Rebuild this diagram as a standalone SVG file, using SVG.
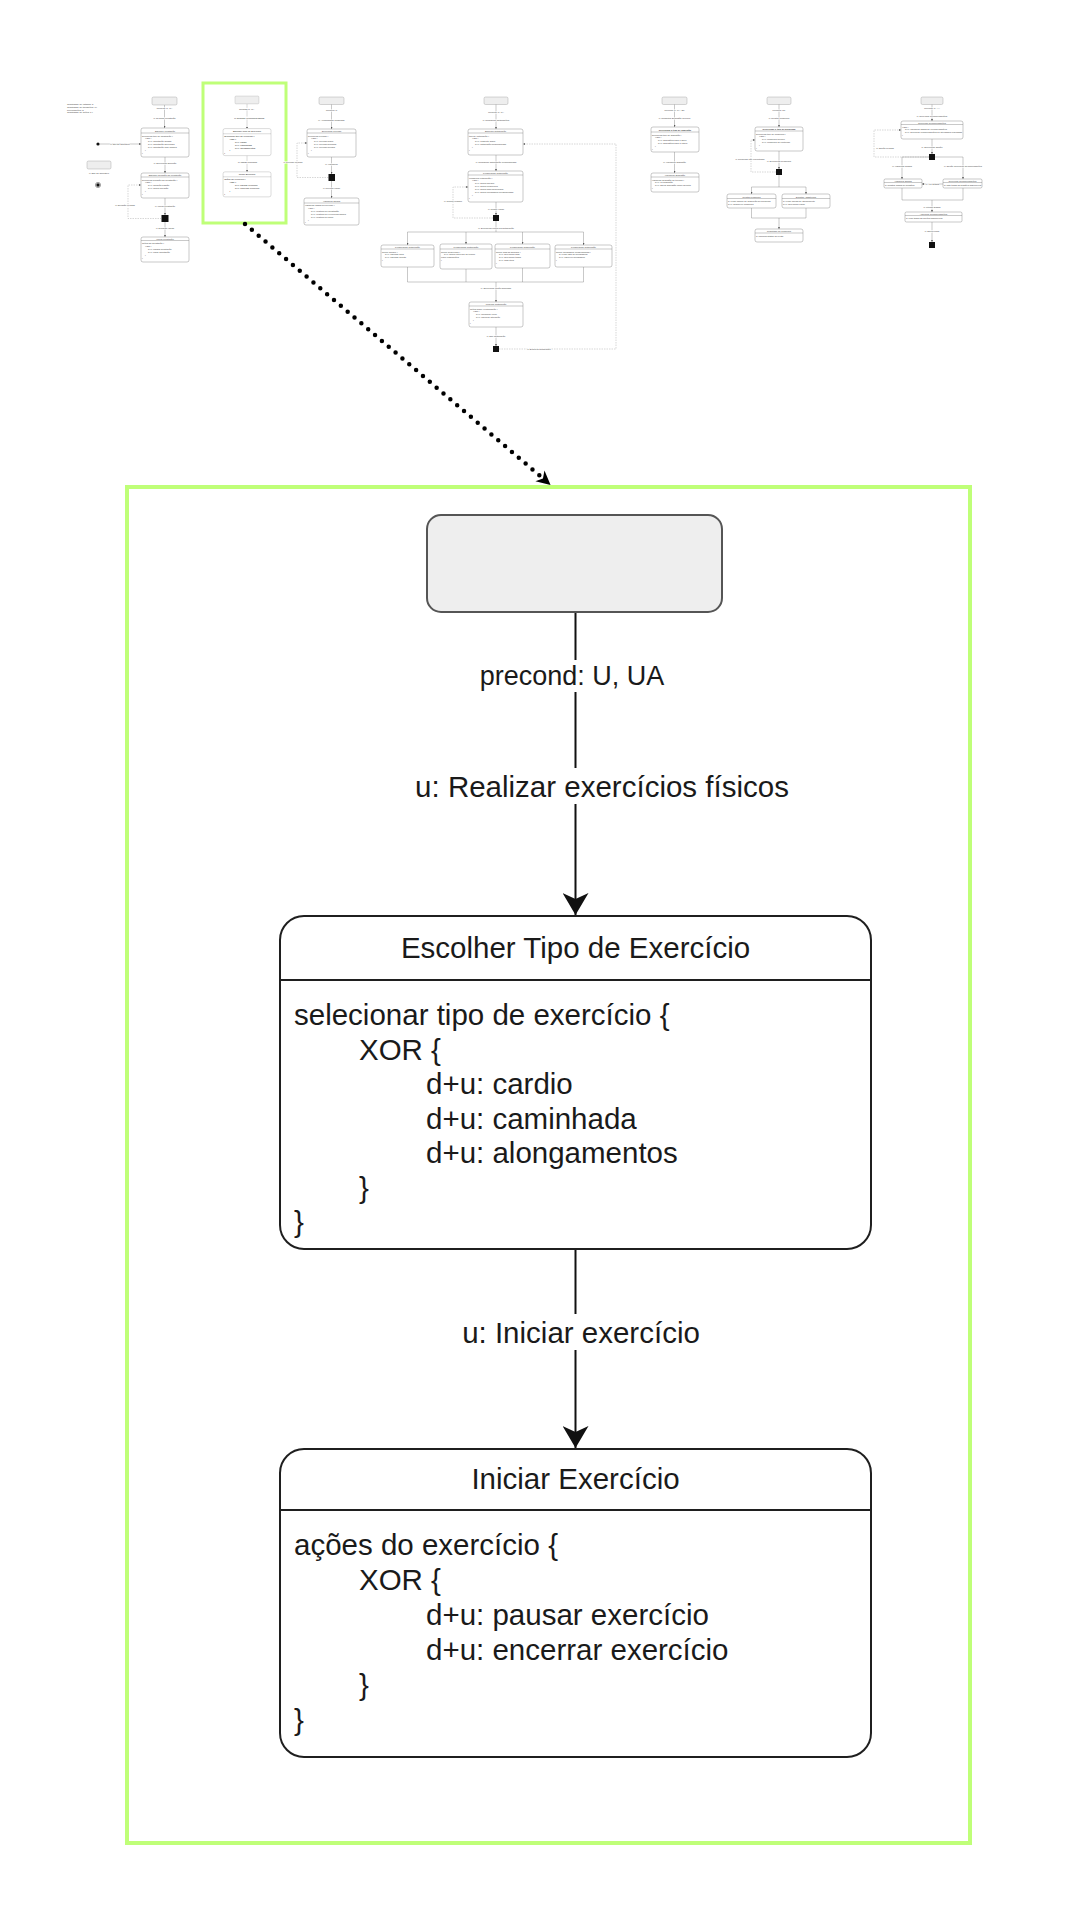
<svg xmlns="http://www.w3.org/2000/svg" xmlns:xlink="http://www.w3.org/1999/xlink" width="1080" height="1920" viewBox="0 0 1080 1920">
<style>
.t{font-family:"Liberation Sans",Arial,"Noto Sans",sans-serif;fill:#1a1a1a}
.lbl{font-size:29.5px;text-anchor:middle}
.pre{font-size:27px;text-anchor:middle}
.ttl{font-size:29.5px;text-anchor:middle}
.body{font-size:29.5px}
.start{fill:#eeeeee;stroke:#555555;stroke-width:2}
.node{fill:#ffffff;stroke:#1f1f1f;stroke-width:2}
.div{stroke:#1f1f1f;stroke-width:2}
.edge{stroke:#111111;stroke-width:2;fill:none}
.bg{fill:#ffffff}
.frame{fill:none;stroke:#bfff78;stroke-width:4}
.mt{font-family:"Liberation Sans",Arial,sans-serif;font-size:2.3px;fill:#444444}
.mtc{text-anchor:middle}
.mtb{font-weight:bold}
.mlab{font-family:"Liberation Sans",Arial,sans-serif;font-size:2.3px;fill:#444444;text-anchor:middle;paint-order:stroke;stroke:#ffffff;stroke-width:1}
.ms{fill:#eeeeee;stroke:#999999;stroke-width:0.4}
.mb{fill:#ffffff;stroke:#777777;stroke-width:0.4}
.ml{stroke:#777777;stroke-width:0.4;fill:none}
.mld{stroke:#999999;stroke-width:0.4;fill:none;stroke-dasharray:1.5 1}
.msq{fill:#111111}
</style>
<defs>
<marker id="arrow" viewBox="0 0 22 26" refX="22" refY="13" markerWidth="22" markerHeight="26" orient="auto" markerUnits="userSpaceOnUse">
<path d="M0,0 L22,13 L0,26 L6,13 Z" fill="#111111"/>
</marker>
<marker id="ma" viewBox="0 0 4 4" refX="4" refY="2" markerWidth="2" markerHeight="2" orient="auto" markerUnits="userSpaceOnUse">
<path d="M0,0 L4,2 L0,4 Z" fill="#555555"/>
</marker>
<marker id="dotarrow" viewBox="0 0 20 20" refX="10" refY="10" markerWidth="20" markerHeight="20" orient="auto" markerUnits="userSpaceOnUse">
<path d="M2,3 L16,10 L2,17 L6,10 Z" fill="#000000"/>
</marker>
</defs>
<rect width="1080" height="1920" fill="#ffffff"/>

<!-- ===== Main (zoomed) diagram ===== -->
<g id="main">
 <g id="connectors">
  <line class="edge" x1="575.5" y1="612" x2="575.5" y2="915" marker-end="url(#arrow)"/>
  <rect class="bg" x="474" y="660" width="196" height="32"/>
  <text class="t pre" x="572" y="685">precond: U, UA</text>
  <rect class="bg" x="410" y="768" width="385" height="36"/>
  <text class="t lbl" x="602" y="796.5">u: Realizar exercícios físicos</text>
  <line class="edge" x1="575.5" y1="1249" x2="575.5" y2="1448" marker-end="url(#arrow)"/>
  <rect class="bg" x="457" y="1314" width="247" height="36"/>
  <text class="t lbl" x="581" y="1342.5">u: Iniciar exercício</text>
 </g>
 <g id="node-start">
  <rect class="start" x="427" y="515" width="295" height="97" rx="14"/>
 </g>
 <g id="node-escolher">
  <rect class="node" x="280" y="916" width="591" height="333" rx="24"/>
  <line class="div" x1="280" y1="980" x2="871" y2="980"/>
  <text class="t ttl" x="575.5" y="957.5">Escolher Tipo de Exercício</text>
  <text class="t body" x="294" y="1025">selecionar tipo de exercício {</text>
  <text class="t body" x="359" y="1059.5">XOR {</text>
  <text class="t body" x="426" y="1094">d+u: cardio</text>
  <text class="t body" x="426" y="1128.5">d+u: caminhada</text>
  <text class="t body" x="426" y="1163">d+u: alongamentos</text>
  <text class="t body" x="359" y="1197.5">}</text>
  <text class="t body" x="294" y="1232">}</text>
 </g>
 <g id="node-iniciar">
  <rect class="node" x="280" y="1449" width="591" height="308" rx="24"/>
  <line class="div" x1="280" y1="1510" x2="871" y2="1510"/>
  <text class="t ttl" x="575.5" y="1488.5">Iniciar Exercício</text>
  <text class="t body" x="294" y="1555">ações do exercício {</text>
  <text class="t body" x="359" y="1590">XOR {</text>
  <text class="t body" x="426" y="1625">d+u: pausar exercício</text>
  <text class="t body" x="426" y="1660">d+u: encerrar exercício</text>
  <text class="t body" x="359" y="1695">}</text>
  <text class="t body" x="294" y="1730">}</text>
 </g>
</g>
<rect id="zoom-frame" class="frame" x="127" y="487" width="843" height="1356"/>

<!-- ===== Overview thumbnails ===== -->
<g id="mini1">
 <text class="mt" x="67" y="105">Quantidade de estados: 8</text>
 <text class="mt" x="67" y="107.8">Quantidade de transições: 14</text>
 <text class="mt" x="67" y="110.6">Precondições: 3</text>
 <text class="mt" x="67" y="113.4">Quantidade de ações: 14</text>
 <rect class="ms" x="152" y="97" width="25" height="8" rx="1.5"/>
 <line class="ml" x1="164.5" y1="105" x2="164.5" y2="128" marker-end="url(#ma)"/>
 <text class="mlab" x="164.5" y="109">precond: U, UA</text>
 <text class="mlab" x="164.5" y="119">u: Realizar meditação</text>
 <rect class="mb" x="141" y="128" width="48" height="29" rx="2"/>
 <line class="ml" x1="141" y1="133" x2="189" y2="133"/>
 <text class="mt mtc" x="165" y="131.8">Escolher Meditação</text>
 <text class="mt" x="142" y="136.5">selecionar tipo de meditação {</text>
 <text class="mt" x="145" y="139.4">XOR {</text>
 <text class="mt" x="148" y="142.3">d+u: meditação guiada</text>
 <text class="mt" x="148" y="145.2">d+u: meditação silenciosa</text>
 <text class="mt" x="148" y="148.1">d+u: meditação com música</text>
 <text class="mt" x="145" y="151">}</text>
 <text class="mt" x="142" y="153.9">}</text>
 <circle cx="98" cy="144" r="1.6" fill="#111"/>
 <line class="ml" x1="99.6" y1="144" x2="141" y2="144" marker-end="url(#ma)"/>
 <text class="mlab" x="120" y="144.8">u: sair do aplicativo</text>
 <rect class="ms" x="87" y="161" width="24" height="8" rx="1.5"/>
 <text class="mlab" x="99" y="174">u: Sair do aplicativo</text>
 <circle cx="98" cy="185" r="2.6" fill="none" stroke="#111" stroke-width="0.4"/>
 <circle cx="98" cy="185" r="1.7" fill="#111"/>
 <line class="ml" x1="165" y1="157" x2="165" y2="173" marker-end="url(#ma)"/>
 <text class="mlab" x="165" y="164">u: Selecionar Duração</text>
 <rect class="mb" x="141" y="173" width="48" height="25" rx="2"/>
 <line class="ml" x1="141" y1="177" x2="189" y2="177"/>
 <text class="mt mtc" x="165" y="176.2">Escolher Duração da Meditação</text>
 <text class="mt" x="142" y="180.5">selecionar duração da meditação {</text>
 <text class="mt" x="145" y="183.4">XOR {</text>
 <text class="mt" x="148" y="186.3">d+u: duração padrão</text>
 <text class="mt" x="148" y="189.2">d+u: definir duração</text>
 <text class="mt" x="145" y="192.1">}</text>
 <text class="mt" x="142" y="195">}</text>
 <line class="ml" x1="165" y1="198" x2="165" y2="215" marker-end="url(#ma)"/>
 <text class="mlab" x="165" y="207">u: Iniciar Meditação</text>
 <rect class="msq" x="161.5" y="215" width="7" height="7"/>
 <path class="mld" d="M161.5,218.5 H128 V185 H141" marker-end="url(#ma)"/>
 <text class="mlab" x="125" y="205.5">u: Duração inválida</text>
 <line class="ml" x1="165" y1="222" x2="165" y2="237" marker-end="url(#ma)"/>
 <text class="mlab" x="165" y="229">u: Duração válida</text>
 <rect class="mb" x="141" y="237" width="48" height="25" rx="2"/>
 <line class="ml" x1="141" y1="240.5" x2="189" y2="240.5"/>
 <text class="mt mtc" x="165" y="239.8">Iniciar Meditação</text>
 <text class="mt" x="142" y="244">ações da meditação {</text>
 <text class="mt" x="145" y="246.9">XOR {</text>
 <text class="mt" x="148" y="249.8">d+u: pausar meditação</text>
 <text class="mt" x="148" y="252.7">d+u: parar meditação</text>
 <text class="mt" x="145" y="255.6">}</text>
 <text class="mt" x="142" y="258.5">}</text>
</g>

<g id="mini2">
 <use xlink:href="#main" href="#main" transform="translate(200.3,54.2) scale(0.0812)"/>
</g>
<rect id="mini2-frame" x="203" y="83" width="83" height="140" fill="none" stroke="#bfff78" stroke-width="3"/>

<g id="mini3">
 <rect class="ms" x="319" y="97" width="25" height="7.5" rx="1.5"/>
 <line class="ml" x1="331.5" y1="104.5" x2="331.5" y2="129" marker-end="url(#ma)"/>
 <text class="mlab" x="331.5" y="111">precond: U</text>
 <text class="mlab" x="331.5" y="121">u: Acompanhar progresso</text>
 <rect class="mb" x="307" y="129" width="49" height="28" rx="2"/>
 <line class="ml" x1="307" y1="133" x2="356" y2="133"/>
 <text class="mt mtc" x="331.5" y="132.2">Selecionar Período</text>
 <text class="mt" x="308" y="136.5">selecionar período {</text>
 <text class="mt" x="311" y="139.4">XOR {</text>
 <text class="mt" x="314" y="142.3">d+u: período diário</text>
 <text class="mt" x="314" y="145.2">d+u: período semanal</text>
 <text class="mt" x="314" y="148.1">d+u: período mensal</text>
 <text class="mt" x="311" y="151">}</text>
 <text class="mt" x="308" y="153.9">}</text>
 <path class="mld" d="M328.5,177.5 H297 V143 H307" marker-end="url(#ma)"/>
 <text class="mlab" x="293" y="162.5">u: Período inválido</text>
 <line class="ml" x1="331.5" y1="157" x2="331.5" y2="174" marker-end="url(#ma)"/>
 <text class="mlab" x="331.5" y="164.5">u: Visualizar</text>
 <rect class="msq" x="328.5" y="174" width="6.5" height="7"/>
 <line class="ml" x1="331.5" y1="181" x2="331.5" y2="198" marker-end="url(#ma)"/>
 <text class="mlab" x="331.5" y="188.5">u: Período válido</text>
 <rect class="mb" x="304" y="198" width="55" height="27" rx="2"/>
 <line class="ml" x1="304" y1="203" x2="359" y2="203"/>
 <text class="mt mtc" x="331.5" y="201.5">Visualizar Dados</text>
 <text class="mt" x="305" y="206">visualizar dados do período {</text>
 <text class="mt" x="308" y="208.9">XOR {</text>
 <text class="mt" x="311" y="211.8">d+u: relatório de meditação</text>
 <text class="mt" x="311" y="214.7">d+u: relatório de exercícios físicos</text>
 <text class="mt" x="311" y="217.6">d+u: relatório de sono</text>
 <text class="mt" x="308" y="220.5">}</text>
 <text class="mt" x="305" y="223.4">}</text>
</g>

<g id="mini4">
 <rect class="ms" x="484" y="97" width="24" height="7.5" rx="1.5"/>
 <line class="ml" x1="496" y1="104.5" x2="496" y2="129" marker-end="url(#ma)"/>
 <text class="mlab" x="496" y="112.5">precond: U, UA</text>
 <text class="mlab" x="496" y="121">u: Configurar Notificações</text>
 <rect class="mb" x="468" y="129" width="55" height="26" rx="2"/>
 <line class="ml" x1="468" y1="133" x2="523" y2="133"/>
 <text class="mt mtc" x="495.5" y="132.2">Escolher Notificação</text>
 <text class="mt" x="469" y="136.5">tipo de notificação {</text>
 <text class="mt" x="472" y="139.4">XOR {</text>
 <text class="mt" x="475" y="142.3">d+u: lembrete diário</text>
 <text class="mt" x="475" y="145.2">d+u: notificação personalizada</text>
 <text class="mt" x="472" y="148.1">}</text>
 <text class="mt" x="469" y="151">}</text>
 <line class="ml" x1="496" y1="155" x2="496" y2="171" marker-end="url(#ma)"/>
 <text class="mlab" x="496" y="163">u: Configurar Notificação Personalizada</text>
 <rect class="mb" x="468" y="171" width="55" height="31" rx="2"/>
 <line class="ml" x1="468" y1="175" x2="523" y2="175"/>
 <text class="mt mtc" x="495.5" y="174.2">Personalizar Notificação</text>
 <text class="mt" x="469" y="178.5">configurar notificação {</text>
 <text class="mt" x="472" y="181.4">XOR {</text>
 <text class="mt" x="475" y="184.3">d+u: definir horário</text>
 <text class="mt" x="475" y="187.2">d+u: definir frequência</text>
 <text class="mt" x="475" y="190.1">d+u: definir dias da semana</text>
 <text class="mt" x="475" y="193">d+u: definir mensagem personalizada</text>
 <text class="mt" x="472" y="195.9">}</text>
 <text class="mt" x="469" y="198.8">}</text>
 <path class="mld" d="M493,218 H453 V187 H468" marker-end="url(#ma)"/>
 <text class="mlab" x="453" y="201.5">u: Tempo inválido</text>
 <line class="ml" x1="496" y1="202" x2="496" y2="215" marker-end="url(#ma)"/>
 <text class="mlab" x="496" y="209.5">u: Tempo válido</text>
 <rect class="msq" x="493" y="215" width="6" height="6"/>
 <line class="ml" x1="496" y1="221" x2="496" y2="232"/>
 <text class="mlab" x="496" y="228.5">u: Selecionar ações da Notificação</text>
 <path class="ml" d="M407.5,232 H583.5"/>
 <line class="ml" x1="407.5" y1="232" x2="407.5" y2="245" marker-end="url(#ma)"/>
 <line class="ml" x1="466" y1="232" x2="466" y2="244" marker-end="url(#ma)"/>
 <line class="ml" x1="522.5" y1="232" x2="522.5" y2="244" marker-end="url(#ma)"/>
 <line class="ml" x1="583.5" y1="232" x2="583.5" y2="245" marker-end="url(#ma)"/>
 <rect class="mb" x="381" y="245" width="53" height="22" rx="2"/>
 <line class="ml" x1="381" y1="249" x2="434" y2="249"/>
 <text class="mt mtc" x="407.5" y="248.2">Personalizar Notificação</text>
 <text class="mt" x="382" y="252.5">definir horário {</text>
 <text class="mt" x="385" y="255.4">d+u: informar hora</text>
 <text class="mt" x="385" y="258.3">d+u: informar minuto</text>
 <text class="mt" x="382" y="261.2">}</text>
 <rect class="mb" x="440" y="244" width="52" height="25" rx="2"/>
 <line class="ml" x1="440" y1="249" x2="492" y2="249"/>
 <text class="mt mtc" x="466" y="248">Personalizar Notificação</text>
 <text class="mt" x="441" y="252.5">definir frequência {</text>
 <text class="mt" x="444" y="255.4">d+u: definir intervalo de tempo</text>
 <text class="mt" x="441" y="258.3">entre notificações</text>
 <text class="mt" x="441" y="261.2">}</text>
 <rect class="mb" x="495" y="244" width="55" height="24" rx="2"/>
 <line class="ml" x1="495" y1="249" x2="550" y2="249"/>
 <text class="mt mtc" x="522.5" y="248">Personalizar Notificação</text>
 <text class="mt" x="496" y="252.5">definir dias da semana {</text>
 <text class="mt" x="499" y="255.4">d+u: selecionar dias</text>
 <text class="mt" x="499" y="258.3">d+u: selecionar todos</text>
 <text class="mt" x="499" y="261.2">d+u: dias úteis</text>
 <text class="mt" x="496" y="264.1">}</text>
 <rect class="mb" x="555" y="245" width="57" height="22" rx="2"/>
 <line class="ml" x1="555" y1="249" x2="612" y2="249"/>
 <text class="mt mtc" x="583.5" y="248.2">Personalizar Notificação</text>
 <text class="mt" x="556" y="252.5">definir mensagem personalizada {</text>
 <text class="mt" x="559" y="255.4">d: exibir lista de mensagens</text>
 <text class="mt" x="559" y="258.3">d+u: escrever mensagem</text>
 <text class="mt" x="556" y="261.2">}</text>
 <line class="ml" x1="407.5" y1="267" x2="407.5" y2="282"/>
 <line class="ml" x1="466" y1="269" x2="466" y2="282"/>
 <line class="ml" x1="522.5" y1="268" x2="522.5" y2="282"/>
 <line class="ml" x1="583.5" y1="267" x2="583.5" y2="282"/>
 <path class="ml" d="M407.5,282 H583.5"/>
 <line class="ml" x1="496" y1="282" x2="496" y2="302" marker-end="url(#ma)"/>
 <text class="mlab" x="496" y="289">u: Selecionar opção desejada</text>
 <rect class="mb" x="469" y="302" width="54" height="25" rx="2"/>
 <line class="ml" x1="469" y1="306" x2="523" y2="306"/>
 <text class="mt mtc" x="496" y="305.2">Finalizar Notificação</text>
 <text class="mt" x="470" y="309.5">ações sobre a notificação {</text>
 <text class="mt" x="473" y="312.4">XOR {</text>
 <text class="mt" x="476" y="315.3">d+u: confirmar envio</text>
 <text class="mt" x="476" y="318.2">d+u: cancelar alteração</text>
 <text class="mt" x="473" y="321.1">}</text>
 <text class="mt" x="470" y="324">}</text>
 <line class="ml" x1="496" y1="327" x2="496" y2="346" marker-end="url(#ma)"/>
 <text class="mlab" x="496" y="337">u: Sair Notificação</text>
 <rect class="msq" x="493" y="346" width="6" height="6"/>
 <path class="mld" d="M499,349 H616 V144 H523" marker-end="url(#ma)"/>
 <text class="mlab" x="539" y="350">u: Encerrar Notificação</text>
</g>

<g id="mini5">
 <rect class="ms" x="662" y="97" width="25" height="7.5" rx="1.5"/>
 <line class="ml" x1="674.5" y1="104.5" x2="674.5" y2="127" marker-end="url(#ma)"/>
 <text class="mlab" x="674.5" y="111">precond: U, UA, ST</text>
 <text class="mlab" x="674.5" y="119">u: Consultar Sugestão Técnica</text>
 <rect class="mb" x="651" y="127" width="48" height="25" rx="2"/>
 <line class="ml" x1="651" y1="132" x2="699" y2="132"/>
 <text class="mt mtc mtb" x="675" y="130.8">Selecionar o tipo de sugestão</text>
 <text class="mt" x="652" y="135.5">selecionar tipo de sugestão {</text>
 <text class="mt" x="655" y="138.4">XOR {</text>
 <text class="mt" x="658" y="141.3">d+u: sugestões para o sono</text>
 <text class="mt" x="658" y="144.2">d+u: sugestões para a rotina</text>
 <text class="mt" x="655" y="147.1">}</text>
 <text class="mt" x="652" y="150">}</text>
 <line class="ml" x1="674.5" y1="152" x2="674.5" y2="173" marker-end="url(#ma)"/>
 <text class="mlab" x="674.5" y="163">u: Visualizar sugestão</text>
 <rect class="mb" x="651" y="173" width="48" height="19" rx="2"/>
 <line class="ml" x1="651" y1="177" x2="699" y2="177"/>
 <text class="mt mtc" x="675" y="176.2">Visualizar Sugestão</text>
 <text class="mt" x="652" y="180.5">visualizar sugestão de técnica {</text>
 <text class="mt" x="655" y="183.4">d+u: ler sugestão</text>
 <text class="mt" x="655" y="186.3">d+u: salvar sugestão como favorita</text>
 <text class="mt" x="652" y="189.2">}</text>
</g>

<g id="mini6">
 <rect class="ms" x="767" y="97" width="24" height="7.5" rx="1.5"/>
 <line class="ml" x1="779" y1="104.5" x2="779" y2="127" marker-end="url(#ma)"/>
 <text class="mlab" x="779" y="111">precond: UP</text>
 <text class="mlab" x="779" y="119">u: Relatar Problema</text>
 <rect class="mb" x="755" y="127" width="48" height="24" rx="2"/>
 <line class="ml" x1="755" y1="131" x2="803" y2="131"/>
 <text class="mt mtc mtb" x="779" y="130.2">Selecionar o tipo de problema</text>
 <text class="mt" x="756" y="134.5">selecionar tipo de problema {</text>
 <text class="mt" x="759" y="137.4">XOR {</text>
 <text class="mt" x="762" y="140.3">d+u: problema técnico</text>
 <text class="mt" x="762" y="143.2">d+u: problema de conteúdo</text>
 <text class="mt" x="759" y="146.1">}</text>
 <text class="mt" x="756" y="149">}</text>
 <path class="mld" d="M776,172 H751 V140 H755" marker-end="url(#ma)"/>
 <text class="mlab" x="750" y="159.5">u: Problema não encontrado</text>
 <line class="ml" x1="779" y1="151" x2="779" y2="169" marker-end="url(#ma)"/>
 <text class="mlab" x="779" y="161.5">u: Selecionar Problema</text>
 <rect class="msq" x="776" y="169" width="6" height="6"/>
 <line class="ml" x1="779" y1="175" x2="779" y2="187"/>
 <path class="ml" d="M751.5,187 H806"/>
 <line class="ml" x1="751.5" y1="187" x2="751.5" y2="194" marker-end="url(#ma)"/>
 <line class="ml" x1="806" y1="187" x2="806" y2="194" marker-end="url(#ma)"/>
 <rect class="mb" x="727" y="194" width="49" height="14" rx="2"/>
 <line class="ml" x1="727" y1="198.5" x2="776" y2="198.5"/>
 <text class="mt mtc" x="751.5" y="197.5">Relatar Problema</text>
 <text class="mt" x="728" y="201.8">d: exibir campo de descrição do problema</text>
 <text class="mt" x="728" y="204.7">d+u: descrever problema</text>
 <rect class="mb" x="782" y="194" width="48" height="14" rx="2"/>
 <line class="ml" x1="782" y1="198.5" x2="830" y2="198.5"/>
 <text class="mt mtc" x="806" y="197.5">Solicitar Assistência</text>
 <text class="mt" x="783" y="201.8">d: exibir canais de atendimento</text>
 <text class="mt" x="783" y="204.7">d+u: selecionar canal</text>
 <line class="ml" x1="751.5" y1="208" x2="751.5" y2="218"/>
 <line class="ml" x1="806" y1="208" x2="806" y2="218"/>
 <path class="ml" d="M751.5,218 H806"/>
 <line class="ml" x1="779" y1="218" x2="779" y2="229" marker-end="url(#ma)"/>
 <rect class="mb" x="755" y="229" width="48" height="13" rx="2"/>
 <line class="ml" x1="755" y1="233" x2="803" y2="233"/>
 <text class="mt mtc" x="779" y="232.2">Resultado do Problema</text>
 <text class="mt" x="756" y="236.5">d: informar status do relato</text>
</g>

<g id="mini7">
 <rect class="ms" x="921" y="97" width="22" height="7.5" rx="1.5"/>
 <line class="ml" x1="932" y1="104.5" x2="932" y2="121" marker-end="url(#ma)"/>
 <text class="mlab" x="932" y="109">precond: U, AA</text>
 <text class="mlab" x="932" y="117">u: Gerenciar Recomendações</text>
 <rect class="mb" x="901" y="121" width="62" height="18" rx="2"/>
 <line class="ml" x1="901" y1="124.5" x2="963" y2="124.5"/>
 <text class="mt mtc" x="932" y="123.8">Gerenciar Recomendações</text>
 <text class="mt" x="902" y="127.5">XOR {</text>
 <text class="mt" x="905" y="130.4">d+u: visualizar dados de recomendações</text>
 <text class="mt" x="905" y="133.3">d+u: gerenciar recomendações de atividades realizadas</text>
 <text class="mt" x="902" y="136.2">}</text>
 <path class="mld" d="M929,157 H874 V130 H901" marker-end="url(#ma)"/>
 <text class="mlab" x="885" y="148.5">u: Opção inválida</text>
 <line class="ml" x1="932" y1="139" x2="932" y2="154" marker-end="url(#ma)"/>
 <text class="mlab" x="932" y="147.5">u: Selecionar Opção</text>
 <rect class="msq" x="929" y="154" width="6" height="6"/>
 <path class="ml" d="M902,157 H929 M935,157 H963"/>
 <line class="ml" x1="902" y1="157" x2="902" y2="179" marker-end="url(#ma)"/>
 <line class="ml" x1="963" y1="157" x2="963" y2="179" marker-end="url(#ma)"/>
 <text class="mlab" x="902" y="166.5">u: Visualizar Dados</text>
 <text class="mlab" x="963" y="166.5">u: Opção Gerenciar Recomendações</text>
 <rect class="mb" x="884" y="179" width="38" height="9" rx="1.5"/>
 <line class="ml" x1="884" y1="182.5" x2="922" y2="182.5"/>
 <text class="mt mtc" x="903" y="181.8">Visualizar Dados</text>
 <text class="mt" x="885" y="185.8">d: mostrar dados de sessões</text>
 <rect class="mb" x="943" y="179" width="39" height="9" rx="1.5"/>
 <line class="ml" x1="943" y1="182.5" x2="982" y2="182.5"/>
 <text class="mt mtc" x="962.5" y="181.8">Gerenciar Recomendações</text>
 <text class="mt" x="944" y="185.8">d: lista todas as sessões disponíveis</text>
 <line class="ml" x1="943" y1="184" x2="922" y2="184" marker-end="url(#ma)"/>
 <text class="mlab" x="932.5" y="184.8">u: Ver Dados</text>
 <line class="ml" x1="902" y1="188" x2="902" y2="200"/>
 <line class="ml" x1="963" y1="188" x2="963" y2="200"/>
 <path class="ml" d="M902,200 H963"/>
 <line class="ml" x1="932" y1="200" x2="932" y2="212" marker-end="url(#ma)"/>
 <text class="mlab" x="932" y="207.5">u: Utilizar Dados</text>
 <rect class="mb" x="905" y="212" width="57" height="10" rx="1.5"/>
 <line class="ml" x1="905" y1="215.5" x2="962" y2="215.5"/>
 <text class="mt mtc" x="933.5" y="214.8">Adicionar Recomendações</text>
 <text class="mt" x="906" y="219">d: criar todas as opções disponíveis</text>
 <line class="ml" x1="932" y1="222" x2="932" y2="242" marker-end="url(#ma)"/>
 <text class="mlab" x="932" y="232">u: Sair/Fechar</text>
 <rect class="msq" x="929" y="242" width="6" height="6"/>
</g>

<!-- dotted zoom pointer -->
<g id="zoom-pointer">
 <line x1="245" y1="224" x2="546" y2="481" stroke="#000000" stroke-width="4.5" stroke-linecap="round" stroke-dasharray="0 9" marker-end="url(#dotarrow)"/>
</g>
</svg>
